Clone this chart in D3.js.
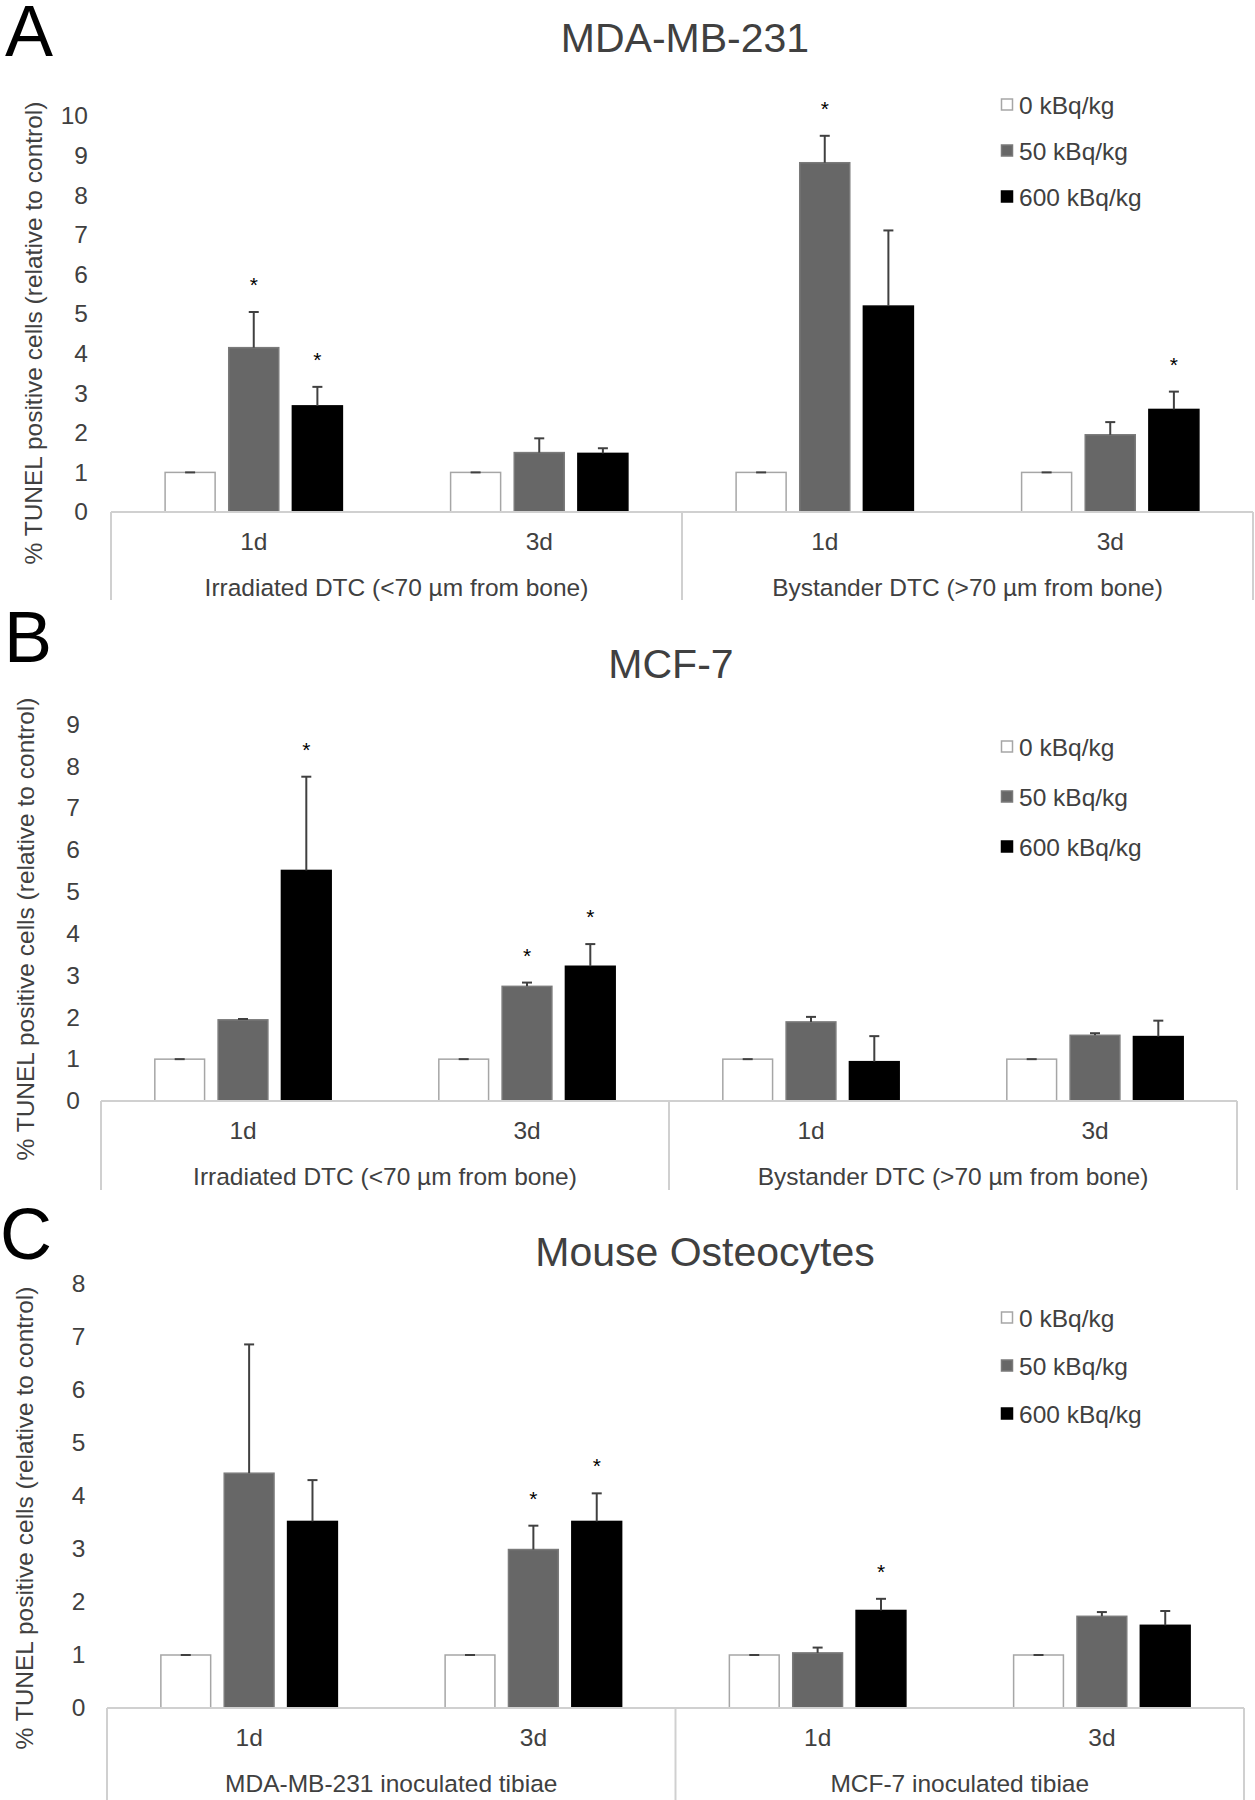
<!DOCTYPE html>
<html>
<head>
<meta charset="utf-8">
<script src="https://cdn.jsdelivr.net/npm/d3@7"></script>
<style>
  body { margin: 0; background: #fff; }
  svg { display: block; font-family: "Liberation Sans", Arial, sans-serif; }
</style>
</head>
<body>
<div id="chart-container"></div>
<script>
// ---- data ----
const categories = ["1d", "3d", "1d", "3d"];
const seriesNames = ["0 kBq/kg", "50 kBq/kg", "600 kBq/kg"];

// A: MDA-MB-231
const groupsA = ["Irradiated DTC (<70 µm from bone)", "Bystander DTC (>70 µm from bone)"];
const ticksA = [0, 1, 2, 3, 4, 5, 6, 7, 8, 9, 10];
const ctrlA = [1, 1, 1, 1];
const ctrlErrA = [0, 0, 0, 0];
const lowA = [4.15, 1.50, 8.82, 1.95];
const lowErrA = [0.90, 0.36, 0.68, 0.32];
const highA = [2.68, 1.48, 5.20, 2.59];
const highErrA = [0.48, 0.13, 1.91, 0.45];
const lowStarA = [1, 0, 1, 0];
const highStarA = [1, 0, 0, 1];

// B: MCF-7
const groupsB = ["Irradiated DTC (<70 µm from bone)", "Bystander DTC (>70 µm from bone)"];
const ticksB = [0, 1, 2, 3, 4, 5, 6, 7, 8, 9];
const ctrlB = [1, 1, 1, 1];
const ctrlErrB = [0, 0, 0, 0];
const lowB = [1.94, 2.74, 1.89, 1.57];
const lowErrB = [0.02, 0.09, 0.12, 0.05];
const highB = [5.51, 3.22, 0.94, 1.54];
const highErrB = [2.24, 0.53, 0.61, 0.38];
const lowStarB = [0, 1, 0, 0];
const highStarB = [1, 1, 0, 0];

// C: Mouse Osteocytes
const groupsC = ["MDA-MB-231 inoculated tibiae", "MCF-7 inoculated tibiae"];
const ticksC = [0, 1, 2, 3, 4, 5, 6, 7, 8];
const ctrlC = [1, 1, 1, 1];
const ctrlErrC = [0, 0, 0, 0];
const lowC = [4.43, 2.99, 1.04, 1.73];
const lowErrC = [2.43, 0.45, 0.10, 0.08];
const highC = [3.52, 3.52, 1.84, 1.56];
const highErrC = [0.78, 0.53, 0.22, 0.27];
const lowStarC = [0, 1, 0, 0];
const highStarC = [0, 1, 1, 0];

// ---- styling ----
const textColor = "#404040";
const axisColor = "#d0d0d0";
const fills = ["#ffffff", "#676767", "#000000"];
const strokes = ["#a6a6a6", "#7a7a7a", "#000000"];
const fontSize = 24.5;

const svg = d3.select("#chart-container").append("svg")
  .attr("width", 1255).attr("height", 1800);

function drawPanel(p) {
  const g = svg.append("g");

  // panel letter
  g.append("text").text(p.letter)
    .attr("x", p.letterX).attr("y", p.letterY)
    .attr("font-size", 72).attr("fill", "#000");

  // title
  g.append("text").text(p.title)
    .attr("x", p.titleX).attr("y", p.titleY)
    .attr("text-anchor", "middle").attr("font-size", 41).attr("fill", textColor);

  const y = d3.scaleLinear().domain([0, d3.max(p.ticks)]).range([p.y0, p.yTop]);
  const x = d3.scaleBand().domain(d3.range(categories.length)).range([p.x0, p.x1]).padding(0);
  const groupW = x.bandwidth() * 0.621;
  const xs = d3.scaleBand().domain(d3.range(seriesNames.length)).range([0, groupW]).paddingInner(0.214);
  const off = (x.bandwidth() - groupW) / 2;

  // y axis (labels only)
  const yAxis = g.append("g")
    .attr("transform", `translate(${p.x0},0)`)
    .call(d3.axisLeft(y).tickValues(p.ticks).tickSize(0).tickPadding(p.tickPad).tickFormat(d3.format("d")));
  yAxis.select(".domain").remove();
  yAxis.selectAll("text").attr("font-size", fontSize).attr("fill", textColor)
    .attr("font-family", "Liberation Sans, Arial, sans-serif");

  // y axis title
  g.append("text").text("% TUNEL positive cells (relative to control)")
    .attr("transform", `translate(${p.yTitleX},${p.yTitleY}) rotate(-90)`)
    .attr("text-anchor", "middle").attr("dy", "0.35em")
    .attr("font-size", fontSize).attr("fill", textColor);

  // bars
  const series = [
    { vals: p.ctrl, errs: p.ctrlErr, stars: [0, 0, 0, 0] },
    { vals: p.low, errs: p.lowErr, stars: p.lowStar },
    { vals: p.high, errs: p.highErr, stars: p.highStar }
  ];
  series.forEach((s, si) => {
    const sg = g.append("g");
    const rows = s.vals.map((v, i) => ({ i: i, v: v, e: s.errs[i], star: s.stars[i] }));
    const cx = d => x(d.i) + off + xs(si) + xs.bandwidth() / 2;

    sg.selectAll("rect").data(rows).enter().append("rect")
      .attr("x", d => x(d.i) + off + xs(si))
      .attr("y", d => y(d.v))
      .attr("width", xs.bandwidth())
      .attr("height", d => y(0) - y(d.v))
      .attr("fill", fills[si]).attr("stroke", strokes[si]).attr("stroke-width", 1.5);

    // positive error bars
    sg.selectAll("line.err").data(rows).enter().append("line")
      .attr("class", "err")
      .attr("x1", cx).attr("x2", cx)
      .attr("y1", d => y(d.v)).attr("y2", d => y(d.v + d.e))
      .attr("stroke", textColor).attr("stroke-width", 2);
    sg.selectAll("line.cap").data(rows).enter().append("line")
      .attr("class", "cap")
      .attr("x1", d => cx(d) - 5).attr("x2", d => cx(d) + 5)
      .attr("y1", d => y(d.v + d.e)).attr("y2", d => y(d.v + d.e))
      .attr("stroke", textColor).attr("stroke-width", 2);

    sg.selectAll("text.star").data(rows.filter(d => d.star)).enter()
      .append("text").attr("class", "star")
      .text("*")
      .attr("x", cx)
      .attr("y", d => y(d.v + d.e) - 20)
      .attr("text-anchor", "middle").attr("font-size", 21).attr("fill", "#000");
  });

  // category axis box
  const box = g.append("g").attr("stroke", axisColor).attr("stroke-width", 2);
  box.append("line").attr("x1", p.x0).attr("x2", p.x1).attr("y1", p.y0).attr("y2", p.y0);
  [p.x0, x(2), p.x1].forEach(v => {
    box.append("line").attr("x1", v).attr("x2", v).attr("y1", p.y0).attr("y2", p.boxBottom);
  });

  const xAxis = g.append("g")
    .attr("transform", `translate(0,${p.y0})`)
    .call(d3.axisBottom(x).tickSize(0).tickPadding(21).tickFormat(i => categories[i]));
  xAxis.select(".domain").remove();
  xAxis.selectAll("text").attr("font-size", fontSize).attr("fill", textColor)
    .attr("font-family", "Liberation Sans, Arial, sans-serif");

  p.groups.forEach((name, gi) => {
    g.append("text").text(name)
      .attr("x", (x(gi * 2) + x(gi * 2 + 1) + x.bandwidth()) / 2)
      .attr("y", p.y0 + 75).attr("dy", "0.35em")
      .attr("text-anchor", "middle").attr("font-size", fontSize).attr("fill", textColor);
  });

  // legend
  const lg = g.append("g");
  seriesNames.forEach((name, si) => {
    const ly = p.legendY + si * p.legendStep;
    lg.append("rect").attr("x", 1001.5).attr("y", ly - 6).attr("width", 11).attr("height", 11)
      .attr("fill", fills[si]).attr("stroke", strokes[si]).attr("stroke-width", 1.5);
    lg.append("text").text(name).attr("x", 1019).attr("y", ly).attr("dy", "0.35em")
      .attr("font-size", fontSize).attr("fill", textColor);
  });
}

drawPanel({
  letter: "A", letterX: 5, letterY: 56, title: "MDA-MB-231", titleX: 685, titleY: 52,
  x0: 111, x1: 1253, y0: 512, yTop: 116, boxBottom: 600, tickPad: 23,
  yTitleX: 33, yTitleY: 333, legendY: 105, legendStep: 46,
  ticks: ticksA, groups: groupsA, ctrl: ctrlA, ctrlErr: ctrlErrA,
  low: lowA, lowErr: lowErrA, high: highA, highErr: highErrA,
  lowStar: lowStarA, highStar: highStarA
});

drawPanel({
  letter: "B", letterX: 4, letterY: 662, title: "MCF-7", titleX: 671, titleY: 678,
  x0: 101, x1: 1237, y0: 1101, yTop: 724.4, boxBottom: 1190, tickPad: 21,
  yTitleX: 25, yTitleY: 929, legendY: 747, legendStep: 50,
  ticks: ticksB, groups: groupsB, ctrl: ctrlB, ctrlErr: ctrlErrB,
  low: lowB, lowErr: lowErrB, high: highB, highErr: highErrB,
  lowStar: lowStarB, highStar: highStarB
});

drawPanel({
  letter: "C", letterX: 0, letterY: 1259, title: "Mouse Osteocytes", titleX: 705, titleY: 1266,
  x0: 107, x1: 1244, y0: 1708, yTop: 1284, boxBottom: 1800, tickPad: 21.5,
  yTitleX: 24.5, yTitleY: 1518, legendY: 1318, legendStep: 48,
  ticks: ticksC, groups: groupsC, ctrl: ctrlC, ctrlErr: ctrlErrC,
  low: lowC, lowErr: lowErrC, high: highC, highErr: highErrC,
  lowStar: lowStarC, highStar: highStarC
});
</script>
</body>
</html>
